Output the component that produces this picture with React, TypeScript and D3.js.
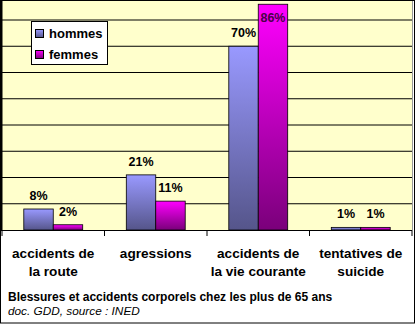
import { useEffect, useRef } from 'react';
import * as d3 from 'd3';

const categories = [
  ['accidents de', 'la route'],
  ['agressions'],
  ['accidents de', 'la vie courante'],
  ['tentatives de', 'suicide'],
];
const hommes = [8, 21, 70, 1];
const femmes = [2, 11, 86, 1];
const seriesNames = ['hommes', 'femmes'];
const yTicks = [10, 20, 30, 40, 50, 60, 70, 80];

const W = 416;
const H = 324;

export default function App() {
  const svgRef = useRef<SVGSVGElement>(null);

  useEffect(() => {
    if (!svgRef.current) return;
    const svg = d3.select(svgRef.current);
    svg.selectAll('*').remove();

    const plot = { left: 2, right: 412, top: 0, bottom: 230 };
    const font = 'Arial, "Liberation Sans", sans-serif';

    // gradients
    const defs = svg.append('defs');
    const gradH = defs.append('linearGradient').attr('id', 'gh').attr('x1', 0).attr('y1', 0).attr('x2', 0).attr('y2', 1);
    gradH.append('stop').attr('offset', '0%').attr('stop-color', '#9999ff');
    gradH.append('stop').attr('offset', '100%').attr('stop-color', '#55558a');
    const gradF = defs.append('linearGradient').attr('id', 'gf').attr('x1', 0).attr('y1', 0).attr('x2', 0).attr('y2', 1);
    gradF.append('stop').attr('offset', '0%').attr('stop-color', '#ff00ff');
    gradF.append('stop').attr('offset', '100%').attr('stop-color', '#7a007a');

    svg.append('rect').attr('x', 0).attr('y', 0).attr('width', W).attr('height', H).attr('fill', '#ffffff');
    svg.append('rect')
      .attr('x', plot.left).attr('y', plot.top)
      .attr('width', plot.right - plot.left).attr('height', plot.bottom - plot.top)
      .attr('fill', '#ffffcc');

    const x = d3.scaleBand<number>().domain(d3.range(categories.length)).range([plot.left, plot.right]);
    const inner = d3.scaleBand<number>().domain([0, 1]).range([0, x.bandwidth()]).paddingOuter(0.74).paddingInner(0);
    const y = d3.scaleLinear().domain([0, 80]).range([plot.bottom, 20]);

    // gridlines
    svg.append('g').selectAll('line').data(yTicks).join('line')
      .attr('x1', plot.left).attr('x2', plot.right)
      .attr('y1', d => y(d)).attr('y2', d => y(d))
      .attr('stroke', '#000').attr('stroke-width', 1);

    // plot border right (gray)
    svg.append('line').attr('x1', plot.right + 0.5).attr('x2', plot.right + 0.5).attr('y1', plot.top).attr('y2', plot.bottom)
      .attr('stroke', '#999').attr('stroke-width', 1);

    const series = [hommes, femmes];
    const fills = ['url(#gh)', 'url(#gf)'];
    series.forEach((vals, s) => {
      const g = svg.append('g');
      g.selectAll('rect').data(vals).join('rect')
        .attr('x', (_, i) => (x(i) as number) + (inner(s) as number))
        .attr('y', d => y(d))
        .attr('width', inner.bandwidth())
        .attr('height', d => y(0) - y(d))
        .attr('fill', fills[s])
        .attr('stroke', '#000').attr('stroke-width', 0.8);
      g.selectAll('text').data(vals).join('text')
        .attr('x', (_, i) => (x(i) as number) + (inner(s) as number) + inner.bandwidth() / 2)
        .attr('y', d => Math.max(y(d) - 9, 22))
        .attr('text-anchor', 'middle')
        .attr('font-family', font).attr('font-weight', 'bold').attr('font-size', 12.5)
        .attr('fill', d => (y(d) - 9 < 22 ? '#4a004a' : '#000'))
        .text(d => `${d}%`);
    });

    // x axis baseline and ticks
    svg.append('line').attr('x1', plot.left).attr('x2', plot.right).attr('y1', plot.bottom + 0.5).attr('y2', plot.bottom + 0.5)
      .attr('stroke', '#000').attr('stroke-width', 1);
    svg.append('g').selectAll('line').data(d3.range(categories.length + 1)).join('line')
      .attr('x1', i => plot.left + i * x.step()).attr('x2', i => plot.left + i * x.step())
      .attr('y1', plot.bottom).attr('y2', plot.bottom + 6)
      .attr('stroke', '#000');

    // left axis line
    svg.append('line').attr('x1', 1).attr('x2', 1).attr('y1', 0).attr('y2', plot.bottom + 1)
      .attr('stroke', '#000').attr('stroke-width', 3);

    // category labels
    const cat = svg.append('g');
    categories.forEach((lines, i) => {
      const t = cat.append('text')
        .attr('x', (x(i) as number) + x.bandwidth() / 2)
        .attr('y', 258)
        .attr('text-anchor', 'middle')
        .attr('font-family', font).attr('font-weight', 'bold').attr('font-size', 13.6)
        .attr('fill', '#000');
      lines.forEach((l, k) => {
        t.append('tspan').attr('x', (x(i) as number) + x.bandwidth() / 2).attr('dy', k === 0 ? 0 : 18).text(l);
      });
    });

    // legend
    const lg = svg.append('g');
    lg.append('rect').attr('x', 31.5).attr('y', 21.5).attr('width', 76).attr('height', 43)
      .attr('fill', '#fff').attr('stroke', '#000');
    seriesNames.forEach((n, i) => {
      lg.append('rect').attr('x', 35.5).attr('y', 29.5 + i * 21).attr('width', 8).attr('height', 8)
        .attr('fill', i === 0 ? 'url(#gh)' : 'url(#gf)').attr('stroke', '#000');
      lg.append('text').attr('x', 49).attr('y', 38 + i * 21)
        .attr('font-family', font).attr('font-weight', 'bold').attr('font-size', 13)
        .attr('fill', '#000').text(n);
    });

    // footer text
    svg.append('text').attr('x', 8).attr('y', 301)
      .attr('font-family', font).attr('font-weight', 'bold').attr('font-size', 12)
      .attr('fill', '#000').text('Blessures et accidents corporels chez les plus de 65 ans');
    svg.append('text').attr('x', 8).attr('y', 315)
      .attr('font-family', font).attr('font-style', 'italic').attr('font-size', 11.8)
      .attr('fill', '#000').text('doc. GDD, source : INED');

    // outer border
    svg.append('rect').attr('x', 0.5).attr('y', 0.5).attr('width', W - 2).attr('height', H - 1.5)
      .attr('fill', 'none').attr('stroke', '#000').attr('stroke-width', 1);
  }, []);

  return (
    <div style={{ position: 'absolute', left: 0, top: 0 }}>
      <svg ref={svgRef} width={W} height={H} style={{ display: 'block' }} />
    </div>
  );
}
